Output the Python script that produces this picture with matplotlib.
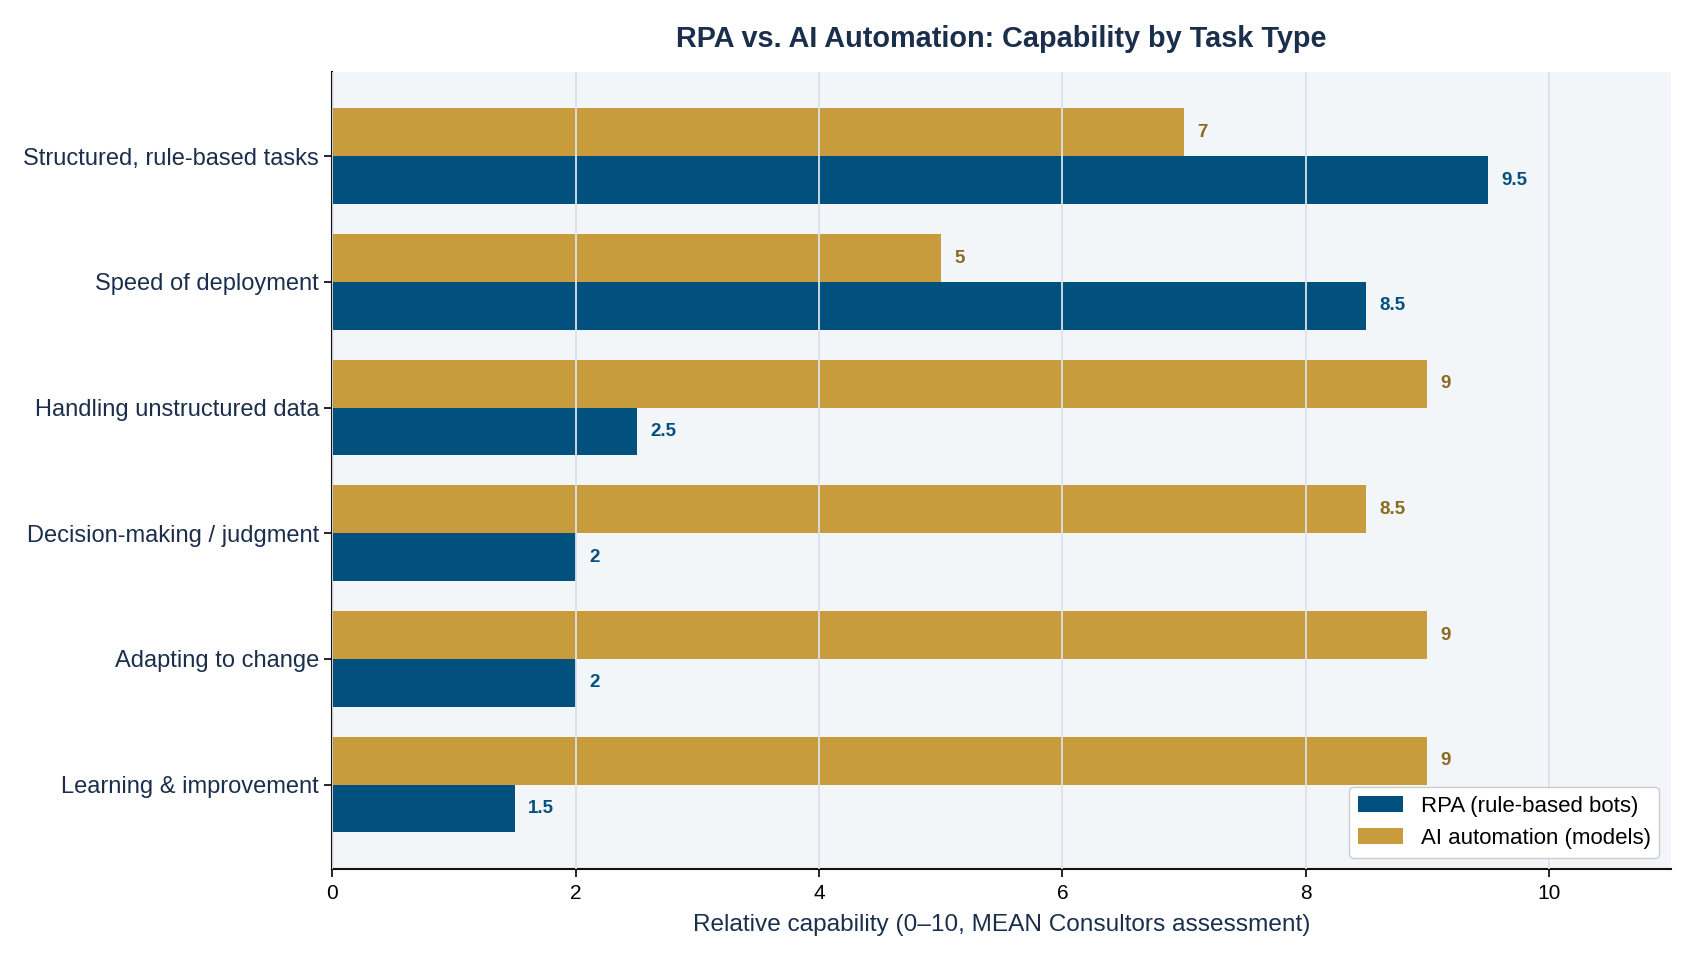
import numpy as np
import matplotlib
matplotlib.use('Agg')
import matplotlib.pyplot as plt

plt.rcParams['font.family'] = ['Liberation Sans', 'DejaVu Sans']

tasks = ['Structured, rule-based tasks', 'Speed of deployment', 'Handling unstructured data',
         'Decision-making / judgment', 'Adapting to change', 'Learning & improvement']
rpa_scores = [9.5, 8.5, 2.5, 2.0, 2.0, 1.5]
ai_scores = [7, 5, 9, 8.5, 9, 9]

navy = '#1b2f4d'
rpa_color = '#02507e'
ai_color = '#c89b3c'

fig, ax = plt.subplots(figsize=(16.96, 9.6), dpi=100)
fig.subplots_adjust(left=0.196, right=0.985, top=0.925, bottom=0.095)
ax.set_facecolor('#f2f6f9')

y = np.arange(len(tasks))
h = 0.38
ax.barh(y + h / 2, rpa_scores, height=h, color=rpa_color, label='RPA (rule-based bots)', zorder=2)
ax.barh(y - h / 2, ai_scores, height=h, color=ai_color, label='AI automation (models)', zorder=2)

# value labels at the end of each bar
for yi, v in zip(y, rpa_scores):
    ax.text(v + 0.11, yi + h / 2, f'{v:g}', va='center', ha='left', fontsize=13.5,
            fontweight='bold', color=rpa_color, zorder=4)
for yi, v in zip(y, ai_scores):
    ax.text(v + 0.11, yi - h / 2, f'{v:g}', va='center', ha='left', fontsize=13.5,
            fontweight='bold', color='#8a6a1f', zorder=4)

ax.set_yticks(y)
ax.set_yticklabels(tasks, fontsize=17, color=navy)
ax.set_ylim(len(tasks) - 1 + 0.67, -0.67)
ax.set_xlim(0, 11)
ax.set_xticks([0, 2, 4, 6, 8, 10])
ax.tick_params(axis='x', labelsize=15, length=6, width=1.2, pad=5)
ax.tick_params(axis='y', length=6, width=1.2)

ax.grid(axis='x', color='#dbe2ea', linewidth=1.3, zorder=3)
ax.set_axisbelow(False)
for s in ['top', 'right']:
    ax.spines[s].set_visible(False)
for s in ['left', 'bottom']:
    ax.spines[s].set_linewidth(1.5)
    ax.spines[s].set_color('#111111')

ax.set_xlabel('Relative capability (0–10, MEAN Consultors assessment)', fontsize=17.6,
              color=navy, labelpad=8)
ax.set_title('RPA vs. AI Automation: Capability by Task Type', fontsize=20.8, fontweight='bold',
             color=navy, pad=18)
ax.legend(loc='lower right', fontsize=16, framealpha=1, facecolor='white')

plt.savefig('out.png', dpi=100)
